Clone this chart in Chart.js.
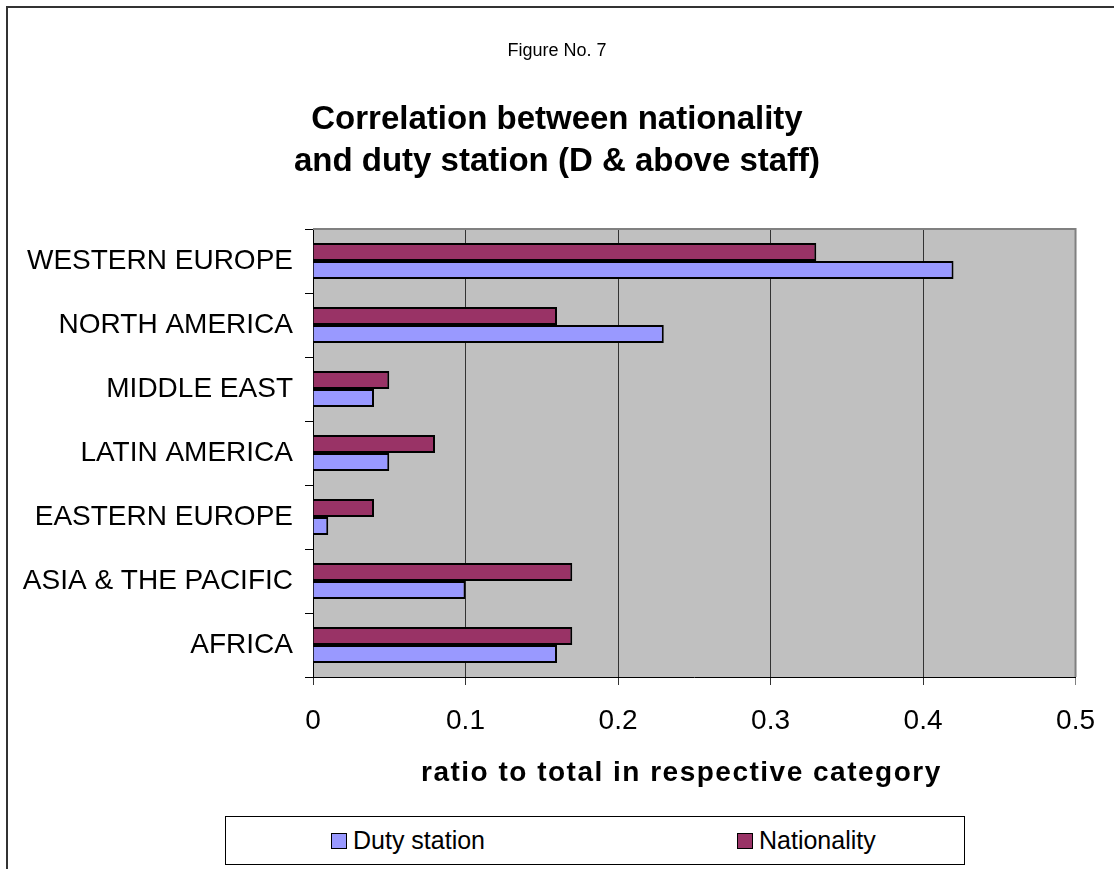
<!DOCTYPE html>
<html>
<head>
<meta charset="utf-8">
<script src="https://cdn.jsdelivr.net/npm/chart.js@4.4.1/dist/chart.umd.min.js"></script>
<style>
  html, body { margin: 0; padding: 0; background: #fff; overflow: hidden; }
  body { width: 1114px; height: 869px; position: relative; font-family: "Liberation Sans", Arial, sans-serif; }
  #frame { position: absolute; left: 6px; top: 6px; width: 1200px; height: 1000px; border-left: 2px solid #333; border-top: 2px solid #333; }
  #wrap { position: absolute; left: 0; top: 0; width: 1114px; height: 869px; }
  .txt { position: absolute; left: 0; width: 1114px; text-align: center; color: #000; white-space: nowrap; }
  #fig { top: 40px; font-size: 18px; }
  #title { top: 97px; font-size: 33px; font-weight: bold; line-height: 42px; }
  #xtitle { position: absolute; top: 755px; left: 421px; font-size: 28px; font-weight: bold; letter-spacing: 1.5px; white-space: nowrap; color: #000; line-height: 34px; }
  #legend { position: absolute; left: 225px; top: 816px; width: 738px; height: 47px; border: 1px solid #000; background: #fff; }
  .item { position: absolute; top: 0; height: 47px; display: flex; align-items: center; font-size: 25px; color: #000; }
  .sw { width: 14px; height: 14px; border: 1px solid #000; margin-right: 6px; }
</style>
</head>
<body>
<div id="frame"></div>
<div id="wrap"><canvas id="c" width="1114" height="869"></canvas></div>
<div id="fig" class="txt">Figure No. 7</div>
<div id="title" class="txt">Correlation between nationality<br>and duty station (D &amp; above staff)</div>
<div id="xtitle">ratio to total in respective category</div>
<div id="legend"></div>
<script>
// Regions, listed top to bottom
const regions = ["WESTERN EUROPE", "NORTH AMERICA", "MIDDLE EAST", "LATIN AMERICA", "EASTERN EUROPE", "ASIA & THE PACIFIC", "AFRICA"];
// Ratio to total in respective category
const nationality = [0.33, 0.16, 0.05, 0.08, 0.04, 0.17, 0.17];
const dutyStation = [0.42, 0.23, 0.04, 0.05, 0.01, 0.10, 0.16];
const xTicks = [0, 0.1, 0.2, 0.3, 0.4, 0.5];

const COL_NAT = "#993366";
const COL_DUTY = "#9999FF";
const FONT = "'Liberation Sans', Arial, sans-serif";

// Legend (duty station listed first)
const legendItems = [
  { label: "Duty station", color: COL_DUTY, left: 105 },
  { label: "Nationality", color: COL_NAT, left: 511 }
];
const legendEl = document.getElementById("legend");
legendItems.forEach(it => {
  const d = document.createElement("div");
  d.className = "item";
  d.style.left = it.left + "px";
  const sw = document.createElement("span");
  sw.className = "sw";
  sw.style.background = it.color;
  d.appendChild(sw);
  d.appendChild(document.createTextNode(it.label));
  legendEl.appendChild(d);
});

// Grey plot background with a thin grey frame on top/right
const plotBackground = {
  id: "plotBackground",
  beforeDraw(chart) {
    const { ctx, chartArea: a } = chart;
    ctx.save();
    ctx.fillStyle = "#C0C0C0";
    ctx.fillRect(a.left, a.top, a.right - a.left, a.bottom - a.top);
    ctx.restore();
  },
  afterDraw(chart) {
    const { ctx, chartArea: a } = chart;
    ctx.save();
    ctx.strokeStyle = "#808080";
    ctx.lineWidth = 2;
    ctx.beginPath();
    ctx.moveTo(a.left, a.top);
    ctx.lineTo(a.right, a.top);
    ctx.lineTo(a.right, a.bottom);
    ctx.stroke();
    ctx.restore();
  }
};

new Chart(document.getElementById("c"), {
  type: "bar",
  data: {
    labels: regions,
    datasets: [
      { label: "Nationality", data: nationality, backgroundColor: COL_NAT, borderColor: "#000", borderWidth: 2 },
      { label: "Duty station", data: dutyStation, backgroundColor: COL_DUTY, borderColor: "#000", borderWidth: 2 }
    ]
  },
  options: {
    indexAxis: "y",
    responsive: false,
    animation: false,
    datasets: { bar: { categoryPercentage: 0.5625, barPercentage: 1.0 } },
    layout: { padding: { left: 0, top: 229, right: 37, bottom: 74 } },
    plugins: { legend: { display: false }, tooltip: { enabled: false }, title: { display: false } },
    scales: {
      x: {
        min: 0, max: 0.5,
        afterBuildTicks(scale) { scale.ticks = xTicks.map(v => ({ value: v })); },
        afterFit(scale) { scale.height = 118; },
        ticks: {
          color: "#000", padding: 19,
          font: { family: FONT, size: 28 },
          callback: v => String(Math.round(v * 10) / 10)
        },
        grid: {
          color: ctx => (ctx.tick && ctx.tick.value === 0.5 ? "#808080" : "#333"),
          lineWidth: 1, tickLength: 8, drawOnChartArea: true, drawTicks: true
        },
        border: { display: true, color: "#000", width: 1 }
      },
      y: {
        afterFit(scale) { scale.width = 313; },
        ticks: { color: "#000", padding: 12, font: { family: FONT, size: 28 } },
        grid: { drawOnChartArea: false, drawTicks: true, tickLength: 8, color: "#000", offset: true },
        border: { display: true, color: "#000", width: 1 }
      }
    }
  },
  plugins: [plotBackground]
});
</script>
</body>
</html>
